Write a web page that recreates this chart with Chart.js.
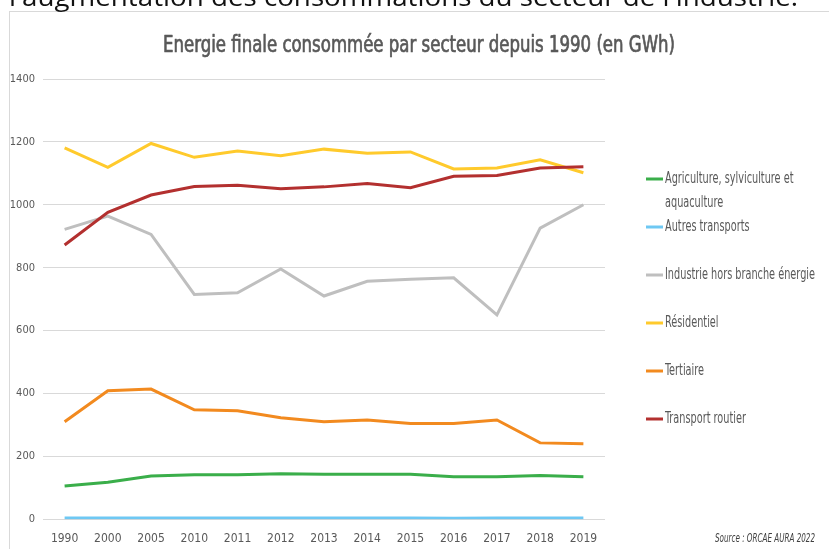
<!DOCTYPE html>
<html>
<head>
<meta charset="utf-8">
<script src="https://cdn.jsdelivr.net/npm/chart.js@4"></script>
<style>
  html, body { margin:0; padding:0; background:#fff; width:829px; height:549px; overflow:hidden; }
  #frame { position:absolute; left:9px; top:11px; width:840px; height:560px; border:1px solid #d9d9d9; box-sizing:border-box; }
  #c { position:absolute; left:0; top:0; }
</style>
</head>
<body>
<div id="frame"></div>
<canvas id="c" width="829" height="549"></canvas>
<script>
const years = ['1990','2000','2005','2010','2011','2012','2013','2014','2015','2016','2017','2018','2019'];
const agriculture = [106,118,138,142,142,145,143,143,143,135,135,139,135];
const autresTransports = [4,4,4,4,4,4,4,4,4,3,4,4,4];
const industrie = [922,964,906,715,720,796,710,757,763,768,650,926,1000];
const residentiel = [1181,1119,1195,1151,1171,1156,1177,1164,1168,1114,1117,1143,1102];
const tertiaire = [310,409,414,348,345,323,310,316,305,305,316,243,240];
const transportRoutier = [872,976,1031,1058,1062,1051,1057,1068,1054,1091,1093,1117,1121];

const seriesNames = ['Agriculture, sylviculture et aquaculture','Autres transports','Industrie hors branche énergie','Résidentiel','Tertiaire','Transport routier'];
const seriesValues = [agriculture, autresTransports, industrie, residentiel, tertiaire, transportRoutier];
const seriesColors = ['#3aae4a','#6ec8f3','#bfbfbf','#ffca2c','#f28a1f','#b3302f'];

const titleText = 'Energie finale consommée par secteur depuis 1990 (en GWh)';
const topText = "l'augmentation des consommations du secteur de l'industrie.";
const sourceText = 'Source : ORCAE AURA 2022';
const yMin = 0, yMax = 1400, yStep = 200;

const NARROW = '"Liberation Sans Narrow", "DejaVu Sans Condensed", sans-serif';

function drawFit(ctx, text, x, y, width, font, color, align, baseline, strokeW) {
  ctx.save();
  ctx.font = font;
  const w = ctx.measureText(text).width;
  const s = width / w;
  ctx.translate(x, y);
  ctx.scale(s, 1);
  ctx.textAlign = align;
  ctx.textBaseline = baseline;
  ctx.fillStyle = color;
  ctx.fillText(text, 0, 0);
  if (strokeW) {
    ctx.strokeStyle = color;
    ctx.lineWidth = strokeW;
    ctx.lineJoin = 'round';
    ctx.strokeText(text, 0, 0);
  }
  ctx.restore();
}

const decor = {
  id: 'decor',
  afterDraw(chart) {
    const ctx = chart.ctx;
    // cut-off sentence above the chart
    drawFit(ctx, topText, 9, 5.5, 789, '25px "Open Sans", "Noto Sans", sans-serif', '#111', 'left', 'alphabetic');
    // title
    drawFit(ctx, titleText, 419, 52, 512, '23px ' + NARROW, '#595959', 'center', 'alphabetic', 0.7);
    // legend
    ctx.save();
    const lf = '15px ' + NARROW;
    ctx.font = lf;
    const sx = 150 / ctx.measureText('Industrie hors branche énergie').width;
    ctx.restore();
    const lx0 = 646, lx1 = 663, tx = 665, y0 = 179, itemGap = 48, lineGap = 24, maxW = 154;
    chart.data.datasets.forEach((ds, i) => {
      const y = y0 + i * itemGap;
      ctx.save();
      ctx.strokeStyle = ds.borderColor;
      ctx.lineWidth = 3;
      ctx.beginPath();
      ctx.moveTo(lx0, y);
      ctx.lineTo(lx1, y);
      ctx.stroke();
      ctx.restore();
      ctx.save();
      ctx.font = lf;
      const words = ds.label.split(' ');
      const lines = [];
      let cur = '';
      words.forEach(w => {
        const t = cur ? cur + ' ' + w : w;
        if (ctx.measureText(t).width * sx > maxW && cur) { lines.push(cur); cur = w; }
        else cur = t;
      });
      if (cur) lines.push(cur);
      ctx.restore();
      lines.forEach((ln, k) => {
        ctx.save();
        ctx.font = lf;
        ctx.translate(tx, y + k * lineGap);
        ctx.scale(sx, 1);
        ctx.textAlign = 'left';
        ctx.textBaseline = 'middle';
        ctx.fillStyle = '#595959';
        ctx.fillText(ln, 0, 0);
        ctx.restore();
      });
    });
    // source
    drawFit(ctx, sourceText, 715, 539, 100, 'italic 12px ' + NARROW, '#404040', 'left', 'middle');
  }
};

new Chart(document.getElementById('c'), {
  type: 'line',
  data: {
    labels: years,
    datasets: seriesNames.map((n, i) => ({
      label: n,
      data: seriesValues[i],
      borderColor: seriesColors[i],
      backgroundColor: seriesColors[i],
      borderWidth: 3,
      pointRadius: 0,
      tension: 0,
      fill: false,
      order: seriesNames.length - i
    }))
  },
  options: {
    responsive: false,
    animation: false,
    devicePixelRatio: 1,
    layout: { padding: { left: 0, right: 224, top: 79, bottom: 0 } },
    plugins: {
      legend: { display: false },
      title: { display: false },
      tooltip: { enabled: false }
    },
    scales: {
      x: {
        offset: true,
        grid: { display: false, drawTicks: false },
        border: { display: false },
        ticks: {
          color: '#595959',
          font: { family: NARROW, size: 12 },
          padding: 12,
          maxRotation: 0,
          autoSkip: false
        },
        afterFit(scale) { scale.height = 29.7; }
      },
      y: {
        min: yMin,
        max: yMax,
        grid: { color: '#d9d9d9', lineWidth: 1, drawTicks: false },
        border: { display: false },
        ticks: {
          stepSize: yStep,
          color: '#595959',
          font: { family: NARROW, size: 11 },
          padding: 8,
          callback: v => String(v)
        },
        afterFit(scale) { scale.width = 43; }
      }
    }
  },
  plugins: [decor]
});
</script>
</body>
</html>
